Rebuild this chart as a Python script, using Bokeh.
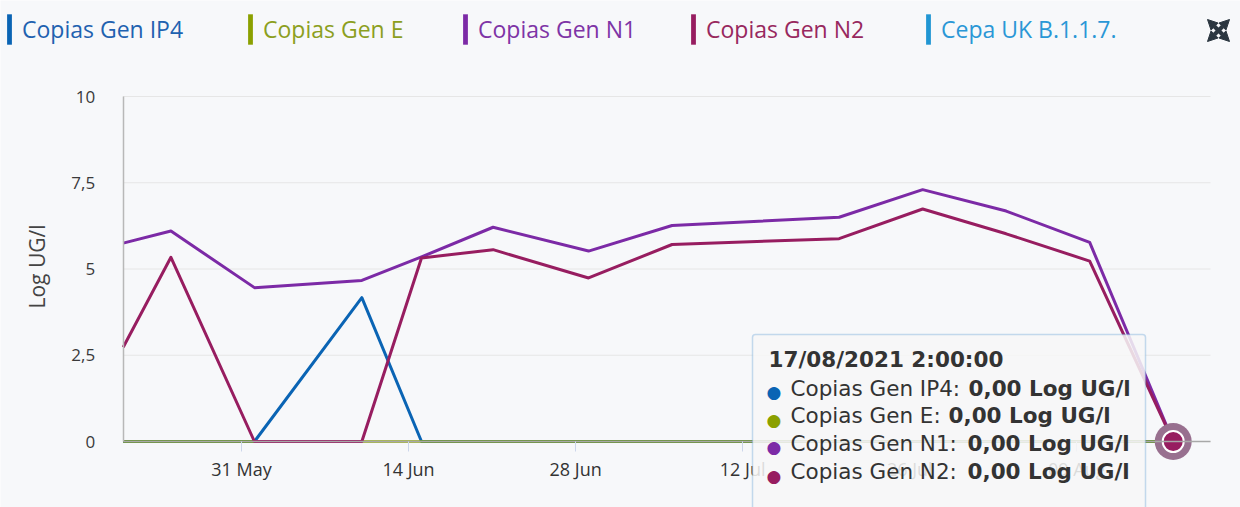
import math
import pandas as pd
from bokeh.plotting import figure
from bokeh.models import (ColumnDataSource, Range1d, FixedTicker, Legend, LegendItem,
                          BoxAnnotation, Label, Arrow, NormalHead)
from bokeh.embed import file_html
from bokeh.resources import INLINE

# ---------------- data ----------------
dates = ["2021-05-21 02:00", "2021-05-25 02:00", "2021-06-01 02:00", "2021-06-10 02:00",
         "2021-06-15 02:00", "2021-06-21 02:00", "2021-06-29 02:00", "2021-07-06 02:00",
         "2021-07-20 02:00", "2021-07-27 02:00", "2021-08-03 02:00", "2021-08-10 02:00",
         "2021-08-17 02:00"]
gen_ip4 = [0, 0, 0, 4.17, 0, 0, 0, 0, 0, 0, 0, 0, 0]
gen_e = [0, 0, 0, 0, 0, 0, 0, 0, 0, 0, 0, 0, 0]
gen_n1 = [5.75, 6.10, 4.46, 4.67, 5.35, 6.21, 5.52, 6.26, 6.50, 7.30, 6.68, 5.77, 0]
gen_n2 = [2.73, 5.34, 0, 0, 5.32, 5.56, 4.74, 5.71, 5.88, 6.74, 6.02, 5.23, 0]
cepa_uk = [float("nan")] * 13

series_names = ["Copias Gen IP4", "Copias Gen E", "Copias Gen N1", "Copias Gen N2", "Cepa UK B.1.1.7."]
series_colors = ["#0a64b4", "#8ba000", "#7c2aa6", "#971d60", "#2196d3"]
legend_text_colors = ["#1f62b0", "#8c9f1e", "#7e34a6", "#98285e", "#2a97d6"]

tick_dates = ["2021-05-31", "2021-06-14", "2021-06-28", "2021-07-12", "2021-07-26", "2021-08-09"]
tick_labels = ["31 May", "14 Jun", "28 Jun", "12 Jul", "26 Jul", "09 Aug"]
y_ticks = [0, 2.5, 5, 7.5, 10]
y_tick_labels = ["0", "2,5", "5", "7,5", "10"]
unit_label = "Log UG/l"

# ---------------- layout constants (pixels of the 1240x507 canvas) ----------------
BG = "#f7f8fa"
W, H = 1240, 507
PLOT_L, PLOT_R, PLOT_T, PLOT_B = 122.7, 1210, 96, 441     # plot area
PX_PER_DAY = 11.932
legend_x = [6, 247, 462, 690, 925]

dt = pd.to_datetime(dates)
first = dt[0]
x_start = first - pd.Timedelta(days=PLOT_L / PX_PER_DAY)
x_end = first + pd.Timedelta(days=(W - PLOT_L) / PX_PER_DAY)
plot_end = first + pd.Timedelta(days=(PLOT_R - PLOT_L) / PX_PER_DAY)
px_per_unit = (PLOT_B - PLOT_T) / 10.0
y_top = 10 + PLOT_T / px_per_unit
y_bot = -(H - PLOT_B) / px_per_unit

src = ColumnDataSource(dict(date=dt, ip4=gen_ip4, e=gen_e, n1=gen_n1, n2=gen_n2, uk=cepa_uk))

p = figure(width=W, height=H, x_axis_type="datetime",
           x_range=Range1d(x_start.to_pydatetime(), x_end.to_pydatetime()),
           y_range=Range1d(y_bot, y_top),
           output_backend="svg", toolbar_location=None,
           min_border=0, min_border_left=0, min_border_right=0,
           min_border_top=0, min_border_bottom=0,
           background_fill_color=BG, border_fill_color=BG, outline_line_color=None)
p.xgrid.visible = False
p.ygrid.visible = False

first_ms = float(first.value // 10**6)

# horizontal grid lines across the plot area
p.segment(x0=[first] * len(y_ticks), x1=[plot_end] * len(y_ticks), y0=y_ticks, y1=y_ticks,
          line_color="#e6e6e6", line_width=1)

# x axis drawn at y = 0
tick_ms = [int(pd.Timestamp(t).value // 10**6) for t in tick_dates]
xa = p.xaxis[0]
xa.fixed_location = 0
xa.bounds = (first.to_pydatetime(), plot_end.to_pydatetime())
xa.ticker = FixedTicker(ticks=tick_ms)
xa.major_label_overrides = dict(zip(tick_ms, tick_labels))
xa.axis_line_color = "#a8a8a8"
xa.axis_line_width = 1.5
xa.major_tick_line_color = "#ccd6eb"
xa.major_tick_out = 10
xa.major_tick_in = 0
xa.minor_tick_line_color = None
xa.major_label_text_font = "Open Sans"
xa.major_label_text_font_size = "18px"
xa.major_label_text_color = "#333333"
xa.major_label_standoff = 5

# y axis drawn at the first sample
ya = p.yaxis[0]
ya.fixed_location = first_ms
ya.ticker = FixedTicker(ticks=y_ticks)
ya.major_label_overrides = dict(zip(y_ticks, y_tick_labels))
ya.bounds = (0, 10)
ya.axis_line_color = "#b8b8b8"
ya.axis_line_width = 1.5
ya.major_tick_line_color = None
ya.minor_tick_line_color = None
ya.major_tick_out = 0
ya.major_tick_in = 0
ya.major_label_standoff = 28
ya.major_label_text_font = "Open Sans"
ya.major_label_text_font_size = "17px"
ya.major_label_text_color = "#3a3a3a"

p.add_layout(Label(x=36.5, y=H - 266, x_units="screen", y_units="screen", text=unit_label,
                   angle=math.pi / 2, text_align="center", text_baseline="middle",
                   text_font="Open Sans", text_font_size="21px", text_color="#444444"))

# series lines
cols = ["ip4", "e", "n1", "n2", "uk"]
alphas = [1, 0.72, 1, 1, 1]
for c, col, a in zip(cols, series_colors, alphas):
    p.line(x="date", y=c, source=src, line_color=col, line_width=3, line_alpha=a,
           line_join="round")

# hovered point marker (last N2 point)
p.scatter(x=[dt[-1]], y=[gen_n2[-1]], size=37, fill_color="#98708f", line_color=None)
p.scatter(x=[dt[-1]], y=[gen_n2[-1]], size=21, fill_color=series_colors[3],
          line_color="white", line_width=2)

# legend (one per item so each label keeps its series colour)
for name, col, tcol, lx in zip(series_names, series_colors, legend_text_colors, legend_x):
    proxy = p.vbar(x=[first], top=[0], bottom=[0], width=1, fill_color=col, line_color=None)
    leg = Legend(items=[LegendItem(label=name, renderers=[proxy])],
                 location=(lx, H - 48),
                 orientation="horizontal", glyph_width=6, glyph_height=38,
                 label_standoff=10, padding=0, margin=0, spacing=0,
                 background_fill_alpha=0, border_line_color=None,
                 label_text_font="Open Sans", label_text_font_size="23px",
                 label_text_color=tcol, label_height=38)
    p.add_layout(leg, "center")

# fullscreen icon
for (x0, y0, x1, y1) in [(1207, 19, 1229, 41), (1229, 19, 1207, 41)]:
    p.add_layout(Arrow(x_start=x0, y_start=H - y0, x_end=x1, y_end=H - y1,
                       start_units="screen", end_units="screen",
                       line_color="#2b3640", line_width=4,
                       start=NormalHead(size=10, fill_color="#2b3640", line_color="#2b3640"),
                       end=NormalHead(size=10, fill_color="#2b3640", line_color="#2b3640")))

# static tooltip for the last sample
box = BoxAnnotation(left=752, right=1145, top=H - 334, bottom=-20,
                    left_units="screen", right_units="screen",
                    top_units="screen", bottom_units="screen",
                    fill_color="#f7f7f7", fill_alpha=0.86,
                    line_color="#4a92d0", line_width=1.5, border_radius=3, level="overlay")
p.add_layout(box)

last = dt[-1]
header = f"{last.day:02d}/{last.month:02d}/{last.year} {last.hour}:{last.minute:02d}:{last.second:02d}"
p.add_layout(Label(x=768, y=H - 371, x_units="screen", y_units="screen",
                   text=header, text_font="DejaVu Sans", text_font_size="21.5px",
                   text_font_style="bold", text_color="#333333", level="overlay"))

last_vals = [gen_ip4[-1], gen_e[-1], gen_n1[-1], gen_n2[-1]]
line_base = [400, 427.5, 455, 483.5]
value_x = [968, 948, 967, 967]
for name, col, v, yb, vx in zip(series_names[:4], series_colors[:4], last_vals, line_base, value_x):
    p.add_layout(Label(x=766, y=H - (yb - 8.5), x_units="screen", y_units="screen",
                       text="\u25CF", text_font="DejaVu Sans", text_font_size="17px",
                       text_color=col, text_baseline="middle", level="overlay"))
    p.add_layout(Label(x=790, y=H - yb, x_units="screen", y_units="screen",
                       text=f"{name}:", text_font="DejaVu Sans", text_font_size="21.5px",
                       text_color="#333333", level="overlay"))
    val = f"{v:.2f}".replace(".", ",") + " " + unit_label
    p.add_layout(Label(x=vx, y=H - yb, x_units="screen", y_units="screen",
                       text=val, text_font="DejaVu Sans", text_font_size="21.5px",
                       text_font_style="bold", text_color="#333333", level="overlay"))

open("out.html", "w").write(file_html(p, INLINE))
